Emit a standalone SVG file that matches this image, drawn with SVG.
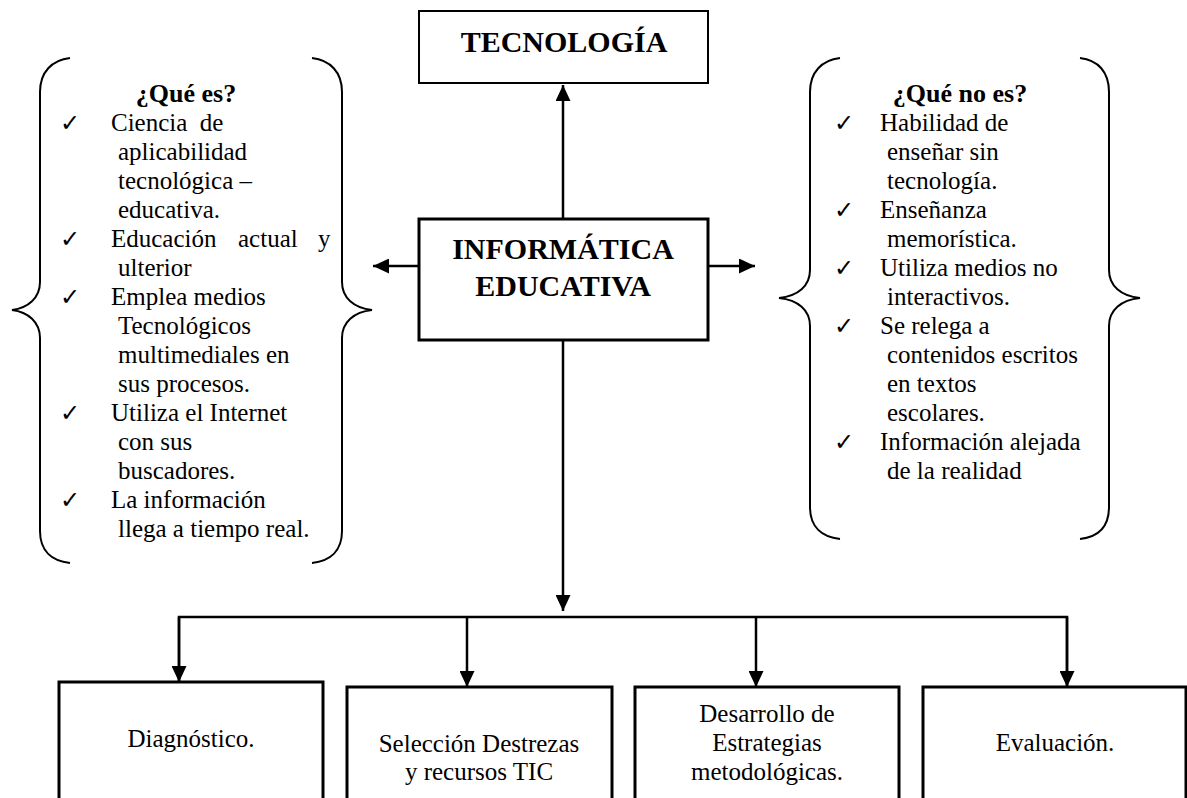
<svg xmlns="http://www.w3.org/2000/svg" width="1187" height="798" viewBox="0 0 1187 798">
<style>
.t{font-family:"Liberation Serif","Times New Roman",serif;font-size:25px;fill:#000}
.h{font-family:"Liberation Serif","Times New Roman",serif;font-size:26px;font-weight:bold;fill:#000;text-anchor:middle}
.big{font-family:"Liberation Serif","Times New Roman",serif;font-size:30px;font-weight:bold;fill:#000;text-anchor:middle}
.c{text-anchor:middle}
.ck{font-family:"DejaVu Sans",sans-serif;font-size:24px;font-weight:bold;fill:#000}
.br{fill:none;stroke:#000;stroke-width:2}
.box{fill:#fff;stroke:#000;stroke-width:3}
.cn{fill:none;stroke:#000;stroke-width:2.5}
</style>
<defs>
<marker id="ah" markerUnits="userSpaceOnUse" markerWidth="17" markerHeight="15" refX="16" refY="7.5" orient="auto">
<path d="M0,0 L16,7.5 L0,15 z" fill="#000"/>
</marker>
</defs>

<g id="connectors">
<line class="cn" x1="563" y1="219" x2="563" y2="85" marker-end="url(#ah)"/>
<line class="cn" x1="419" y1="266" x2="373" y2="266" marker-end="url(#ah)"/>
<line class="cn" x1="708" y1="266" x2="755" y2="266" marker-end="url(#ah)"/>
<line class="cn" x1="563" y1="340" x2="563" y2="611" marker-end="url(#ah)"/>
<polyline class="cn" points="179,682 179,617 1067,617 1067,687"/>
<line class="cn" x1="179" y1="617" x2="179" y2="682" marker-end="url(#ah)"/>
<line class="cn" x1="467" y1="617" x2="467" y2="687" marker-end="url(#ah)"/>
<line class="cn" x1="756" y1="617" x2="756" y2="687" marker-end="url(#ah)"/>
<line class="cn" x1="1067" y1="617" x2="1067" y2="687" marker-end="url(#ah)"/>
</g>

<g id="tecnologia">
<rect x="419" y="11" width="289" height="72" fill="#fff" stroke="#000" stroke-width="2"/>
<text class="big" x="564" y="52">TECNOLOGÍA</text>
</g>

<g id="informatica">
<rect class="box" x="419" y="219" width="289" height="121"/>
<text class="big" x="563" y="259">INFORMÁTICA</text>
<text class="big" x="563" y="296">EDUCATIVA</text>
</g>

<g id="que-es">
<path class="br" d="M70,58 C52,60 40,72 40,92 L40,282 C40,298 28,308 12,310 C28,312 40,322 40,338 L40,531 C40,551 52,561 70,563"/>
<path class="br" d="M312,58 C330,60 342,72 342,92 L342,282 C342,298 354,308 372,310 C354,312 342,322 342,338 L342,531 C342,551 330,561 312,563"/>
<text class="h" x="186" y="102">¿Qué es?</text>
<text class="ck" x="60" y="131">✓</text>
<text class="t" x="111" y="131" xml:space="preserve">Ciencia  de</text>
<text class="t" x="118" y="160">aplicabilidad</text>
<text class="t" x="118" y="189">tecnológica –</text>
<text class="t" x="118" y="218">educativa.</text>
<text class="ck" x="60" y="247">✓</text>
<text class="t" y="247"><tspan x="111">Educación</tspan><tspan x="238">actual</tspan><tspan x="318">y</tspan></text>
<text class="t" x="118" y="276">ulterior</text>
<text class="ck" x="60" y="305">✓</text>
<text class="t" x="111" y="305">Emplea medios</text>
<text class="t" x="118" y="334">Tecnológicos</text>
<text class="t" x="118" y="363">multimediales en</text>
<text class="t" x="118" y="392">sus procesos.</text>
<text class="ck" x="60" y="421">✓</text>
<text class="t" x="111" y="421">Utiliza el Internet</text>
<text class="t" x="118" y="450">con sus</text>
<text class="t" x="118" y="479">buscadores.</text>
<text class="ck" x="60" y="508">✓</text>
<text class="t" x="111" y="508">La información</text>
<text class="t" x="118" y="537">llega a tiempo real.</text>
</g>

<g id="que-no-es">
<path class="br" d="M840,58 C822,60 810,72 810,92 L810,270 C810,286 798,296 779,298 C798,300 810,310 810,326 L810,507 C810,527 822,537 840,539"/>
<path class="br" d="M1080,58 C1098,60 1109,72 1109,92 L1109,270 C1109,286 1121,296 1140,298 C1121,300 1109,310 1109,326 L1109,507 C1109,527 1098,537 1080,539"/>
<text class="h" x="960" y="102">¿Qué no es?</text>
<text class="ck" x="834" y="131">✓</text>
<text class="t" x="880" y="131">Habilidad de</text>
<text class="t" x="887" y="160">enseñar sin</text>
<text class="t" x="887" y="189">tecnología.</text>
<text class="ck" x="834" y="218">✓</text>
<text class="t" x="880" y="218">Enseñanza</text>
<text class="t" x="887" y="247">memorística.</text>
<text class="ck" x="834" y="276">✓</text>
<text class="t" x="880" y="276">Utiliza medios no</text>
<text class="t" x="887" y="305">interactivos.</text>
<text class="ck" x="834" y="334">✓</text>
<text class="t" x="880" y="334">Se relega a</text>
<text class="t" x="887" y="363">contenidos escritos</text>
<text class="t" x="887" y="392">en textos</text>
<text class="t" x="887" y="421">escolares.</text>
<text class="ck" x="834" y="450">✓</text>
<text class="t" x="880" y="450">Información alejada</text>
<text class="t" x="887" y="479">de la realidad</text>
</g>

<g id="diagnostico">
<rect class="box" x="59" y="682" width="264" height="130"/>
<text class="t c" x="191" y="747">Diagnóstico.</text>
</g>
<g id="seleccion">
<rect class="box" x="347" y="687" width="265" height="130"/>
<text class="t c" x="479" y="752">Selección Destrezas</text>
<text class="t c" x="479" y="780">y recursos TIC</text>
</g>
<g id="desarrollo">
<rect class="box" x="635" y="687" width="264" height="130"/>
<text class="t c" x="767" y="722">Desarrollo de</text>
<text class="t c" x="767" y="751">Estrategias</text>
<text class="t c" x="767" y="780">metodológicas.</text>
</g>
<g id="evaluacion">
<rect class="box" x="923" y="687" width="263" height="130"/>
<text class="t c" x="1055" y="751">Evaluación.</text>
</g>
</svg>
